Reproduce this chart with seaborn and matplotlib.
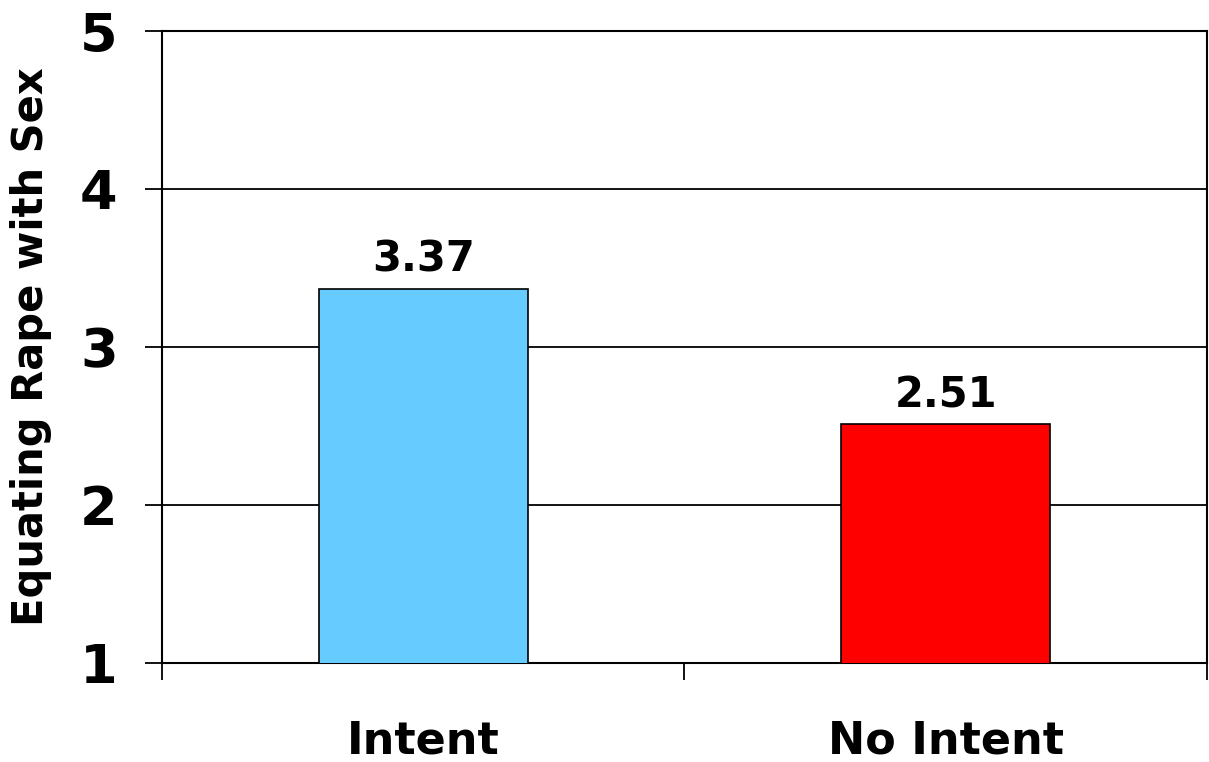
import matplotlib
matplotlib.use("Agg")
import matplotlib.pyplot as plt
import seaborn as sns
import pandas as pd

categories = ["Intent", "No Intent"]
values = [3.37, 2.51]
value_labels = ["3.37", "2.51"]
bar_colors = ["#66CCFF", "#FF0000"]
y_ticks = [1, 2, 3, 4, 5]
y_label = "Equating Rape with Sex"

sns.set_theme(style="white")
plt.rcParams['font.family'] = ['DejaVu Sans']
plt.rcParams['text.color'] = 'black'
plt.rcParams['xtick.color'] = 'black'
plt.rcParams['ytick.color'] = 'black'
plt.rcParams['axes.labelcolor'] = 'black'

df = pd.DataFrame({"cat": categories, "val": values})

fig = plt.figure(figsize=(12.09, 7.62), dpi=100)
ax = fig.add_axes([0.134, 0.13, 0.8643, 0.8293])

sns.barplot(data=df, x="cat", y="val", hue="cat", palette=bar_colors,
            saturation=1, width=0.4, edgecolor="black", linewidth=1.2,
            legend=False, ax=ax, zorder=3)

ax.set_ylim(1, 5)
ax.set_xlim(-0.5, 1.5)
ax.set_yticks(y_ticks)
ax.set_yticklabels([str(t) for t in y_ticks], fontsize=39, fontweight="bold")
ax.yaxis.grid(True, color="black", linewidth=1.3, zorder=0)
ax.set_axisbelow(True)

ax.set_xticks([0, 1])
ax.set_xticklabels(categories, fontsize=32, fontweight="bold")
ax.tick_params(axis="x", which="major", length=0, pad=41)
ax.set_xticks([-0.5, 0.5, 1.5], minor=True)
ax.tick_params(axis="x", which="minor", length=12, width=1.3, color="black", direction="out", bottom=True)
ax.tick_params(axis="y", length=12, width=1.3, color="black", direction="out", left=True, pad=20)

for s in ax.spines.values():
    s.set_visible(True)
    s.set_color("black")
    s.set_linewidth(1.5)

ax.set_xlabel("")
ax.set_ylabel(y_label, fontsize=30, fontweight="bold", labelpad=20)

for i, (v, lab) in enumerate(zip(values, value_labels)):
    ax.text(i, v + 0.05, lab, ha="center", va="bottom", fontsize=30, fontweight="bold")

fig.savefig("out.png", dpi=100)
